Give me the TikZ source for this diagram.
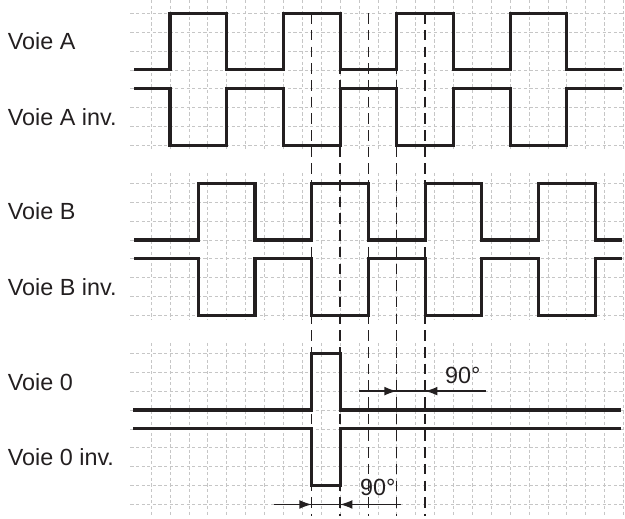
\documentclass[tikz,border=0pt]{standalone}
\usepackage{fontspec}
\setmainfont{Liberation Sans}
\usetikzlibrary{arrows.meta}
\definecolor{ink}{RGB}{35,31,32}

\begin{document}
\begin{tikzpicture}[x = 0.378cm, y = -0.378cm,
		signal/.style = {line width = 1.8pt, ink},
		gridline/.style = {gray!45, line width = 0.4pt, dash pattern = on 1.8pt off 1.4pt},
		marker/.style = {ink, line width = 0.7pt, dash pattern = on 6pt off 3.5pt},
		dim/.style = {ink, line width = 0.7pt},
		tip/.style = {-{Latex[length = 7pt, width = 5pt]}},
		lbl/.style = {font = \fontsize{13.3}{16}\selectfont, text = ink, inner sep = 0pt}]
		\useasboundingbox (-8,-0.7) rectangle (25.08,26.76);
		% dotted grid, three blocks
		\foreach \ra/\rb/\ya/\yb in {0/7/-0.7/7.2, 9/16/8.45/16.2, 18/26/17.45/26.65} {
			\foreach \r in {\ra,...,\rb} \draw[gridline] (-1.1,\r) -- (25,\r);
			\foreach \c in {0,...,25} \draw[gridline] (\c,\ya) -- (\c,\yb);
		}
		\foreach \c in {8.5,10,11.5,13,14.5} \draw[marker] (\c,0) -- (\c,26.6);
		% channel A
		\draw[signal] (-0.9,3) -- (1,3) -- (1,0) -- (4,0) -- (4,3) -- (7,3) -- (7,0) -- (10,0) -- (10,3) -- (13,3) -- (13,0) -- (16,0) -- (16,3) -- (19,3) -- (19,0) -- (22,0) -- (22,3) -- (24.9,3);
		\draw[signal] (-0.9,4) -- (1,4) -- (1,7) -- (4,7) -- (4,4) -- (7,4) -- (7,7) -- (10,7) -- (10,4) -- (13,4) -- (13,7) -- (16,7) -- (16,4) -- (19,4) -- (19,7) -- (22,7) -- (22,4) -- (24.9,4);
		% channel B
		\draw[signal] (-0.9,12) -- (2.5,12) -- (2.5,9) -- (5.5,9) -- (5.5,12) -- (8.5,12) -- (8.5,9) -- (11.5,9) -- (11.5,12) -- (14.5,12) -- (14.5,9) -- (17.5,9) -- (17.5,12) -- (20.5,12) -- (20.5,9) -- (23.5,9) -- (23.5,12) -- (24.9,12);
		\draw[signal] (-0.9,13) -- (2.5,13) -- (2.5,16) -- (5.5,16) -- (5.5,13) -- (8.5,13) -- (8.5,16) -- (11.5,16) -- (11.5,13) -- (14.5,13) -- (14.5,16) -- (17.5,16) -- (17.5,13) -- (20.5,13) -- (20.5,16) -- (23.5,16) -- (23.5,13) -- (24.9,13);
		% channel 0
		\draw[signal] (-0.95,21) -- (8.5,21) -- (8.5,18) -- (10,18) -- (10,21) -- (24.85,21);
		\draw[signal] (-0.95,22) -- (8.5,22) -- (8.5,25) -- (10,25) -- (10,22) -- (24.85,22);
		% 90 degree marks
		\coordinate (ua) at (11,20);
		\coordinate (ub) at (17.7,20);
		\draw[dim] (ua) -- (ub);
		\draw[dim, tip] (ua) -- (13,20);
		\draw[dim, tip] (ub) -- (14.5,20);
		\node[lbl, anchor = south] (degup) at (16.5,19.62) {90°};
		\coordinate (la) at (6.5,26);
		\coordinate (lb) at (13.2,26);
		\draw[dim] (la) -- (lb);
		\draw[dim, tip] (la) -- (8.5,26);
		\draw[dim, tip] (lb) -- (10,26);
		\node[lbl, anchor = south] (deglow) at (12,25.58) {90°};
		% labels
		\node[lbl, anchor = west] (voieA) at (-7.6,1.5) {Voie A};
		\node[lbl, anchor = west] (voieAinv) at (-7.6,5.5) {Voie A inv.};
		\node[lbl, anchor = west] (voieB) at (-7.6,10.5) {Voie B};
		\node[lbl, anchor = west] (voieBinv) at (-7.6,14.5) {Voie B inv.};
		\node[lbl, anchor = west] (voie0) at (-7.6,19.5) {Voie 0};
		\node[lbl, anchor = west] (voie0inv) at (-7.6,23.5) {Voie 0 inv.};
	\end{tikzpicture}
\end{document}
